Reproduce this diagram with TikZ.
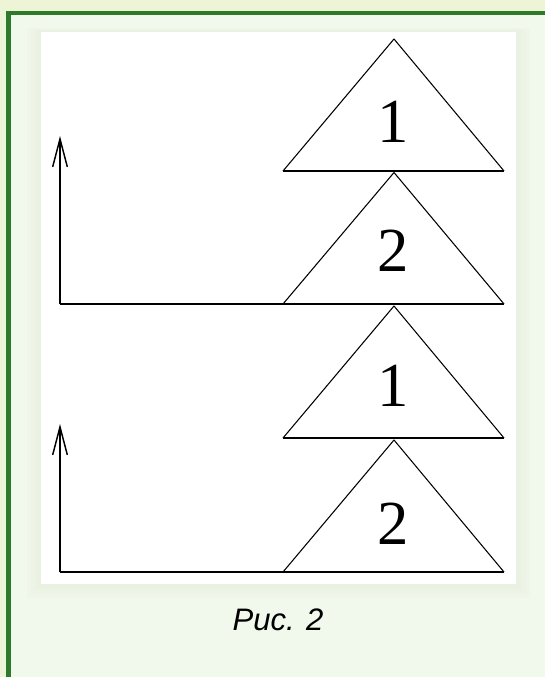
\documentclass[tikz,border=0pt]{standalone}
\usepackage{fontspec}
\setmainfont{Liberation Serif}
\newfontfamily\capfont{Liberation Sans}
\usetikzlibrary{arrows.meta}
\definecolor{outerbg}{HTML}{EEF5D6}
\definecolor{framegreen}{HTML}{2E7A2A}
\definecolor{panelbg}{HTML}{F1F8EC}
\definecolor{shadowgreen}{HTML}{DDEBD2}
\tikzset{
  side/.style={draw=black, line width=0.8pt, line join=round},
  baseline/.style={draw=black, line width=1.3pt},
  axis/.style={draw=black, line width=1.1pt, -{Straight Barb[length=21pt,width=11pt,line width=1.1pt]}},
  digit/.style={font=\fontsize{47}{47}\selectfont, inner sep=0pt},
  caption/.style={font=\capfont\itshape\fontsize{23.3}{23.3}\selectfont, inner sep=0pt, anchor=base}
}
\begin{document}
\begin{tikzpicture}[x=0.75pt, y=-0.75pt]
  \useasboundingbox (0,0) rectangle (545,677);
  % backgrounds
  \fill[outerbg] (0,0) rectangle (545,677);
  \fill[framegreen] (5.5,11) rectangle (545,677);
  \fill[panelbg] (10.5,15.5) rectangle (545,677);
  % soft shadow round the white figure
  \foreach \d/\o in {14/0.08,10/0.10,6/0.12,3/0.14}{
    \fill[shadowgreen, opacity=\o] (41-\d,32-\d*0.3) rectangle (516+\d,584+\d);
  }
  \fill[white] (41,32) rectangle (516,584);

  % triangles
  \foreach \i/\ya/\yb in {1/39/171, 2/172.5/304, 3/306/438, 4/440/572}{
    \coordinate (t\i a) at (394,\ya);
    \coordinate (t\i l) at (283,\yb);
    \coordinate (t\i r) at (504,\yb);
    \draw[side] (t\i l) -- (t\i a) -- (t\i r);
    \draw[baseline] (t\i l) -- (t\i r);
  }
  % digits
  \node[digit] (d1) at (393,122) {1};
  \node[digit] (d2) at (393,251) {2};
  \node[digit] (d3) at (393,386) {1};
  \node[digit] (d4) at (393,524) {2};

  % axes
  \coordinate (o1) at (60,304);
  \coordinate (y1) at (60,136);
  \coordinate (o2) at (60,572);
  \coordinate (y2) at (60,424);
  \draw[baseline] (o1) -- (t2l);
  \draw[baseline] (o2) -- (t4l);
  \draw[axis] (o1) -- (y1);
  \draw[axis] (o2) -- (y2);

  % caption
  \node[caption] (cap) at (278,630) {Рис. 2};
\end{tikzpicture}
\end{document}
